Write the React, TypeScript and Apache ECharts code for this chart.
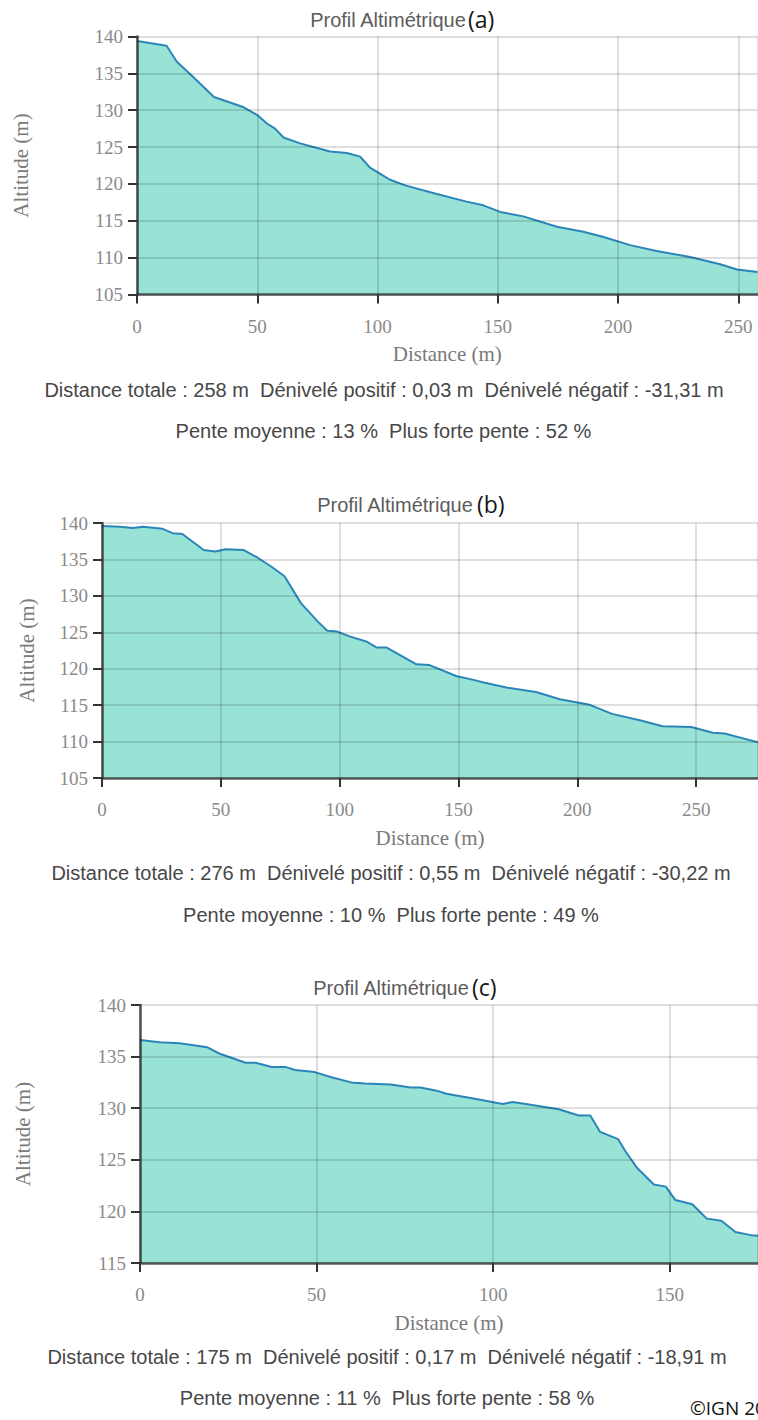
import React, { useEffect, useRef } from "react";
import * as echarts from "echarts";

// ---- Data ----
const distA = [0, 12.3, 16.5, 24, 32, 44.4, 50, 54, 57.4, 60.9, 67.8, 80.3, 87.2, 92.8, 96.9, 101, 105, 111.5, 123.9, 137, 144, 151, 160.6, 174.6, 185.6, 194, 205, 216, 230, 242.5, 249.5, 258];
const altA = [139.4, 138.75, 136.6, 134.3, 131.8, 130.4, 129.35, 128.2, 127.5, 126.3, 125.5, 124.4, 124.2, 123.7, 122.2, 121.4, 120.6, 119.8, 118.7, 117.6, 117.1, 116.2, 115.6, 114.2, 113.5, 112.8, 111.7, 110.9, 110.1, 109.1, 108.4, 108.05];

const distB = [0, 7.5, 13, 17.2, 25.5, 29.7, 33.8, 42.8, 47.7, 51.9, 59.5, 65.7, 71.3, 76.8, 83.7, 90.7, 94.8, 99, 104.5, 111.5, 115.6, 119.8, 132.3, 137.8, 149, 157.2, 160.6, 170.6, 182.6, 192.6, 204.7, 214.6, 226.7, 235.8, 247.9, 257, 262, 272.5, 276];
const altB = [139.6, 139.5, 139.3, 139.5, 139.2, 138.6, 138.5, 136.3, 136.1, 136.4, 136.3, 135.2, 134.0, 132.7, 129.0, 126.5, 125.2, 125.1, 124.4, 123.7, 122.9, 122.9, 120.6, 120.5, 119.0, 118.4, 118.1, 117.4, 116.8, 115.8, 115.1, 113.8, 112.9, 112.1, 112.0, 111.2, 111.1, 110.2, 109.9];

const distC = [0, 5.6, 11.2, 19.1, 22.4, 29.9, 32.7, 37.3, 41.1, 43.9, 49.5, 54.2, 59.8, 63.6, 71, 76.6, 79.4, 84, 86.8, 95.2, 102.7, 105.5, 109.2, 118.6, 124.2, 127.5, 130.3, 135.4, 137.5, 140.8, 145.5, 148.9, 151.6, 156.4, 160.5, 164.6, 168.6, 173, 175];
const altC = [136.6, 136.4, 136.3, 135.9, 135.3, 134.4, 134.4, 134.0, 134.0, 133.7, 133.5, 133.0, 132.5, 132.4, 132.3, 132.0, 132.0, 131.7, 131.4, 130.9, 130.4, 130.6, 130.4, 129.9, 129.3, 129.3, 127.7, 127.0, 125.8, 124.2, 122.6, 122.4, 121.1, 120.7, 119.3, 119.1, 118.0, 117.7, 117.65];

const labels = ["(a)", "(b)", "(c)"];
const titleText = "Profil Altimétrique";
const statsLine1 = [
  "Distance totale : 258 m \u00a0Dénivelé positif : 0,03 m \u00a0Dénivelé négatif : -31,31 m",
  "Distance totale : 276 m \u00a0Dénivelé positif : 0,55 m \u00a0Dénivelé négatif : -30,22 m",
  "Distance totale : 175 m \u00a0Dénivelé positif : 0,17 m \u00a0Dénivelé négatif : -18,91 m",
];
const statsLine2 = [
  "Pente moyenne : 13 % \u00a0Plus forte pente : 52 %",
  "Pente moyenne : 10 % \u00a0Plus forte pente : 49 %",
  "Pente moyenne : 11 % \u00a0Plus forte pente : 58 %",
];
const yMins = [105, 105, 115];
const yMaxs = [140, 140, 140];
const xMaxs = [258, 276, 175];
const copyright = "©IGN 2019";

// ---- Layout ----
const layouts = [
  { left: 137, top: 36.5, width: 620.5, height: 258, yNameGap: 106, titleX: 388, titleY: 20, labX: 468, s1: { x: 384, y: 390 }, s2: { x: 383.5, y: 431 } },
  { left: 102, top: 523, width: 663.5, height: 255, yNameGap: 65, titleX: 395, titleY: 505, labX: 477, s1: { x: 391, y: 873 }, s2: { x: 391, y: 915 } },
  { left: 140, top: 1005, width: 624, height: 258, yNameGap: 107, titleX: 391, titleY: 988, labX: 472, s1: { x: 387, y: 1357 }, s2: { x: 387, y: 1398 } },
];

const SERIF = "'Liberation Serif', 'DejaVu Serif', serif";
const SANS = "'Liberation Sans', Arial, sans-serif";
const OPEN = "'Open Sans', 'Noto Sans', sans-serif";

export default function App() {
  const ref = useRef<HTMLDivElement>(null);
  useEffect(() => {
    if (!ref.current) return;
    const chart = echarts.init(ref.current, undefined, { renderer: "svg" });
    const dists = [distA, distB, distC];
    const alts = [altA, altB, altC];
    const grids: any[] = [];
    const xAxes: any[] = [];
    const yAxes: any[] = [];
    const series: any[] = [];
    const graphics: any[] = [];
    layouts.forEach((L, i) => {
      grids.push({ left: L.left, top: L.top, width: L.width, height: L.height, containLabel: false });
      const gridLine = { show: true, lineStyle: { color: "rgba(0,0,0,0.17)", width: 1.5 } };
      xAxes.push({
        type: "value", gridIndex: i, min: 0, max: xMaxs[i], interval: 50, z: 3,
        name: "Distance (m)", nameLocation: "middle", nameGap: 49,
        nameTextStyle: { fontFamily: SERIF, fontSize: 21, color: "#7a7a7a" },
        axisLine: { show: true, onZero: false, lineStyle: { color: "rgba(40,40,40,0.75)", width: 2.5 } },
        axisTick: { show: true, length: 9, lineStyle: { color: "#333", width: 2 } },
        axisLabel: { fontFamily: SERIF, fontSize: 19, color: "#8a8a8a", margin: 22, showMaxLabel: false },
        splitLine: gridLine,
      });
      yAxes.push({
        type: "value", gridIndex: i, min: yMins[i], max: yMaxs[i], interval: 5, z: 3,
        name: "Altitude (m)", nameLocation: "middle", nameGap: L.yNameGap, nameRotate: 90,
        nameTextStyle: { fontFamily: SERIF, fontSize: 21, color: "#7a7a7a" },
        axisLine: { show: true, lineStyle: { color: "rgba(40,40,40,0.8)", width: 2.5 } },
        axisTick: { show: true, length: 9, lineStyle: { color: "#333", width: 2 } },
        axisLabel: { fontFamily: SERIF, fontSize: 19, color: "#8a8a8a", margin: 14 },
        splitLine: gridLine,
      });
      series.push({
        type: "line", xAxisIndex: i, yAxisIndex: i, z: 2,
        data: dists[i].map((d, k) => [d, alts[i][k]]),
        showSymbol: false, smooth: false,
        lineStyle: { color: "#2a86b8", width: 2 },
        areaStyle: { color: "#98e3d6", opacity: 1, origin: "start" },
        silent: true,
      });
      graphics.push({
        type: "text", x: L.titleX, y: L.titleY,
        style: { text: titleText, fontFamily: SANS, fontSize: 20, fill: "#5c5c5c", textAlign: "center", textVerticalAlign: "middle" },
      });
      graphics.push({
        type: "text", x: L.labX, y: L.titleY - 1,
        style: { text: labels[i], fontFamily: OPEN, fontSize: 23, fill: "#151515", textAlign: "left", textVerticalAlign: "middle" },
      });
      graphics.push({
        type: "text", x: L.s1.x, y: L.s1.y,
        style: { text: statsLine1[i], fontFamily: SANS, fontSize: 20, fill: "#474747", textAlign: "center", textVerticalAlign: "middle" },
      });
      graphics.push({
        type: "text", x: L.s2.x, y: L.s2.y,
        style: { text: statsLine2[i], fontFamily: SANS, fontSize: 20, fill: "#474747", textAlign: "center", textVerticalAlign: "middle" },
      });
    });
    graphics.push({
      type: "text", x: 690, y: 1408,
      style: { text: copyright, fontFamily: OPEN, fontSize: 19, fill: "#111", textAlign: "left", textVerticalAlign: "middle" },
    });
    chart.setOption({
      animation: false,
      backgroundColor: "#ffffff",
      grid: grids,
      xAxis: xAxes,
      yAxis: yAxes,
      series,
      graphic: graphics,
    });
    return () => chart.dispose();
  }, []);
  return (
    <div style={{ position: "absolute", left: 0, top: 0, width: 758, height: 1420, overflow: "hidden" }}>
      <div ref={ref} style={{ width: 758, height: 1420 }} />
    </div>
  );
}
